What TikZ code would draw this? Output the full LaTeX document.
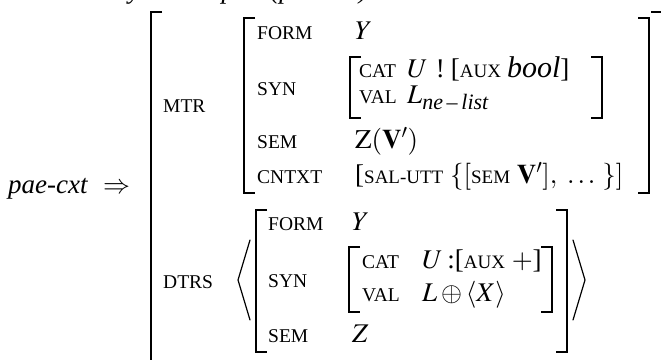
\documentclass[tikz,border=0pt]{standalone}
\usepackage{mathptmx}
\usepackage{fontspec}
\setmainfont{Liberation Serif}[ItalicFont={Liberation Serif Italic}, BoldFont={Liberation Serif Bold}]
\usepackage{xcolor}
\definecolor{ink}{HTML}{000000}
\newcommand{\fsc}[1]{{\fontsize{19}{23}\selectfont #1}}
\newcommand{\lbr}[3]{\draw[brk] (#1+11,#2) -- (#1,#2) -- (#1,#3) -- (#1+11,#3);}
\newcommand{\rbr}[3]{\draw[brk] (#1-11,#2) -- (#1,#2) -- (#1,#3) -- (#1-11,#3);}
\tikzset{
  brk/.style={draw=ink, line width=1.3pt, line cap=butt, line join=miter},
  ang/.style={draw=ink, line width=1.2pt, line cap=round, line join=miter},
  attr/.style={anchor=base west, inner sep=0pt, text=ink, font=\fontsize{19.5}{23}\selectfont},
  val/.style={anchor=base west, inner sep=0pt, text=ink, font=\fontsize{27}{32}\selectfont},
}
\begin{document}
\begin{tikzpicture}[x=1pt, y=-1pt]
  \path[use as bounding box, clip] (0,0) rectangle (661,359);

  \node[val, anchor=base east, font=\fontsize{27}{32}\selectfont\itshape] (title) at (368,-2) {Post-auxiliary VP ellipsis (pae-cxt)};
  \node[val] (cxt) at (8,193) {\textit{pae-cxt}};
  \node[val] (arr) at (103,193) {$\Rightarrow$};

  % outer matrix
  \draw[brk] (162,12) -- (151,12) -- (151,420);
  \draw[brk] (651,12) -- (672,12) -- (672,420);

  % mother
  \node[attr] (mtr) at (163,112) {MTR};
  \lbr{244}{18}{193}
  \rbr{649}{18}{193}
  \node[attr] (mform) at (257,39) {FORM};
  \node[val]  (mformv) at (355,39) {$Y$};
  \node[attr] (msyn) at (257,95) {SYN};
  \lbr{350}{57}{118}
  \rbr{602}{57}{118}
  \node[attr] (mcat) at (359,77) {CAT};
  \node[val]  (mcatv) at (407,77) {$U$\hspace{8pt}!\hspace{6pt}[\fsc{AUX}\hspace{6pt}{\fontsize{30}{32}\selectfont\textit{bool}}]};
  \node[attr] (mval) at (359,103) {VAL};
  \node[val]  (mvalv) at (407,103) {$L$\raisebox{-6pt}{\fontsize{22}{24}\selectfont\textit{ne\,–\,list}}};
  \node[attr] (msem) at (257,148) {SEM};
  \node[val]  (msemv) at (355,148) {$\mathrm{Z}(\mathbf{V}')$};
  \node[attr] (mctx) at (257,183) {CNTXT};
  \node[val]  (mctxv) at (355,183) {[\fsc{SAL-UTT} $\{[$\fsc{SEM} $\mathbf{V}'],\ \ldots\ \}]$};

  % daughters
  \node[attr] (dtrs) at (163,288) {DTRS};
  \draw[ang] (250,240) -- (238,280) -- (250,320);
  \draw[ang] (573,240) -- (585,280) -- (573,320);
  \lbr{256}{210}{352}
  \rbr{567}{210}{352}
  \node[attr] (dform) at (268,230) {FORM};
  \node[val]  (dformv) at (352,230) {$Y$};
  \node[attr] (dsyn) at (268,287) {SYN};
  \lbr{349}{247}{312}
  \rbr{552}{247}{312}
  \node[attr] (dcat) at (362,268) {CAT};
  \node[val]  (dcatv) at (422,268) {$U$\,:[\fsc{AUX} $+$]};
  \node[attr] (dval) at (362,301) {VAL};
  \node[val]  (dvalv) at (422,301) {$L\oplus\langle X\rangle$};
  \node[attr] (dsem) at (268,342) {SEM};
  \node[val]  (dsemv) at (352,342) {$Z$};
\end{tikzpicture}
\end{document}
